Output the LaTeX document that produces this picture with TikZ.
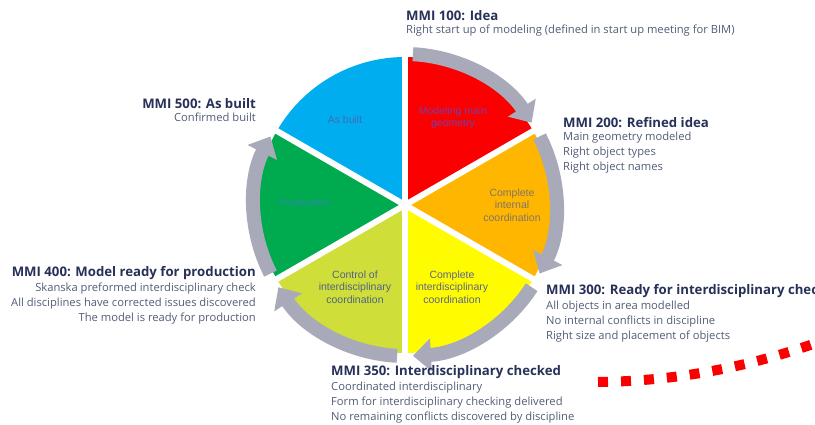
\documentclass[tikz,border=0pt]{standalone}
\usepackage{fontspec}
\setmainfont{Open Sans}
\newfontfamily\labelfont{Liberation Sans}
\usetikzlibrary{positioning, arrows.meta}

\definecolor{mmiblue}{RGB}{0,174,239}
\definecolor{mmired}{RGB}{250,0,0}
\definecolor{mmiorange}{RGB}{255,182,0}
\definecolor{mmiyellow}{RGB}{255,252,0}
\definecolor{mmilime}{RGB}{208,222,58}
\definecolor{mmigreen}{RGB}{0,170,78}
\definecolor{arrowgray}{RGB}{168,170,186}
\definecolor{titleblue}{RGB}{38,48,88}
\definecolor{textblue}{RGB}{82,92,118}

\begin{document}
\begin{tikzpicture}[x=1pt, y=1pt,
  gap/.style={white, line width=6pt},
  cyclearrow/.style={draw=arrowgray, line width=14pt, -{Triangle[width=32pt,length=18pt]}},
  phase/.style={font=\labelfont\fontsize{10.5}{12.5}\selectfont, align=center, inner sep=0pt},
  mmititle/.style={font=\bfseries\fontsize{13.2}{15}\selectfont, text=titleblue, inner sep=0pt},
  mmitext/.style={font=\fontsize{11.2}{15}\selectfont, text=textblue, inner sep=0pt}]
\useasboundingbox (0,0) rectangle (815,-425);
\coordinate (c) at (405,-205);

% the six phases
\foreach \a/\col in {30/mmired, -30/mmiorange, -90/mmiyellow, -150/mmilime, 150/mmigreen, 90/mmiblue}
  \fill[\col] (c) -- ++(\a:148) arc[start angle=\a, end angle=\a+60, radius=148] -- cycle;
\foreach \a in {30,90,...,330}
  \draw[gap] (c) -- ++(\a:156);

% gray arrows round the wheel
\foreach \a in {90,30,-30,-90,-150}
  \draw[cyclearrow] (c) ++(\a-3:151) arc[start angle=\a-3, end angle=\a-57, radius=151];

\node[phase, text={rgb,255:red,70;green,105;blue,185}] (asbuilt) at (345,-120) {As built};
\node[phase, text={rgb,255:red,125;green,60;blue,165}] (geometry) at (453,-118) {Modeling main\\geometry};
\node[phase, text={rgb,255:red,130;green,118;blue,100}] (internal) at (512,-205) {Complete\\internal\\coordination};
\node[phase, text={rgb,255:red,90;green,100;blue,140}] (interdisc) at (452,-287) {Complete\\interdisciplinary\\coordination};
\node[phase, text={rgb,255:red,80;green,100;blue,130}] (control) at (355,-287) {Control of\\interdisciplinary\\coordination};
\node[phase, text={rgb,255:red,40;green,140;blue,170}] (production) at (305,-203) {Production};

% MMI levels
\node[mmititle, anchor=west] (t100) at (406,-16) {MMI 100: Idea};
\node[mmitext, align=left, below right=3pt and 0pt of t100.south west] (b100)
  {Right start up of modeling (defined in start up meeting for BIM)};

\node[mmititle, anchor=west] (t200) at (563,-123) {MMI 200: Refined idea};
\node[mmitext, align=left, below right=3pt and 0pt of t200.south west] (b200)
  {Main geometry modeled\\Right object types\\Right object names};

\node[mmititle, anchor=west] (t300) at (546,-291) {MMI 300: Ready for interdisciplinary check};
\node[mmitext, align=left, below right=3pt and 0pt of t300.south west] (b300)
  {All objects in area modelled\\No internal conflicts in discipline\\Right size and placement of objects};

\node[mmititle, anchor=west] (t350) at (331,-372) {MMI 350: Interdisciplinary checked};
\node[mmitext, align=left, below right=3pt and 0pt of t350.south west] (b350)
  {Coordinated interdisciplinary\\Form for interdisciplinary checking delivered\\No remaining conflicts discovered by discipline};

\node[mmititle, anchor=east] (t400) at (256,-273) {MMI 400: Model ready for production};
\node[mmitext, align=right, below left=3pt and 0pt of t400.south east] (b400)
  {Skanska preformed interdisciplinary check\\All disciplines have corrected issues discovered\\The model is ready for production};

\node[mmititle, anchor=east] (t500) at (256,-104) {MMI 500: As built};
\node[mmitext, align=right, below left=3pt and 0pt of t500.south east] (b500)
  {Confirmed built};

% red dotted line
\coordinate (d0) at (598,-382);
\coordinate (d1) at (830,-338);
\draw[mmired, line width=10pt, dash pattern=on 10pt off 13pt] (d0) .. controls (690,-381) and (765,-362) .. (d1);
\end{tikzpicture}
\end{document}
